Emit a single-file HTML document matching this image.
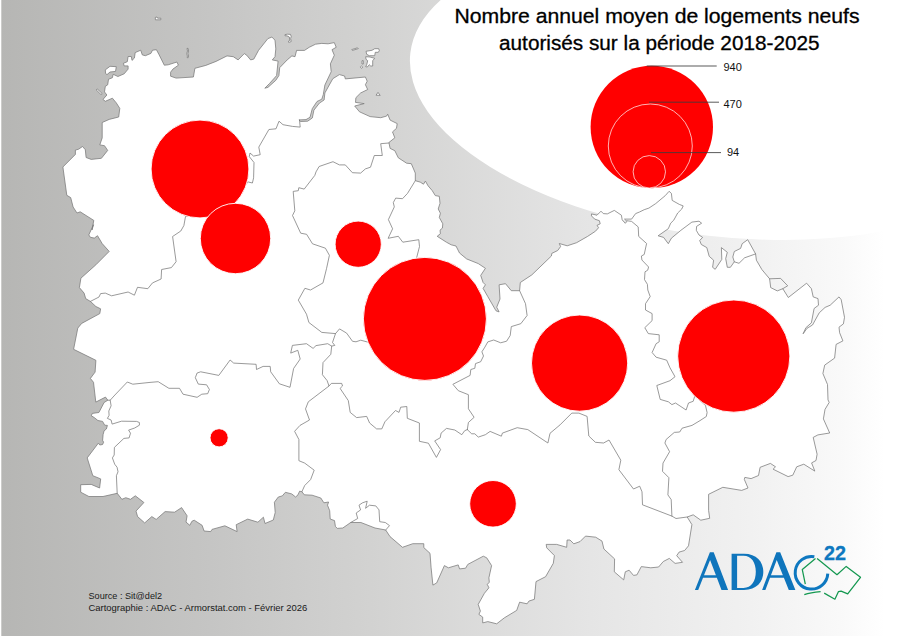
<!DOCTYPE html>
<html><head><meta charset="utf-8"><title>Carte</title>
<style>
html,body{margin:0;padding:0;background:#fff;}
body{width:900px;height:636px;overflow:hidden;position:relative;font-family:"Liberation Sans",sans-serif;}
svg{position:absolute;left:0;top:0;display:block;}
text{font-family:"Liberation Sans",sans-serif;}
</style></head><body>
<svg width="900" height="636" viewBox="0 0 900 636">
<defs>
<linearGradient id="bg" x1="0" y1="0" x2="900" y2="0" gradientUnits="userSpaceOnUse">
<stop offset="0" stop-color="#b6b6b4"/>
<stop offset="0.2333" stop-color="#c5c5c4"/>
<stop offset="0.4111" stop-color="#d2d2d1"/>
<stop offset="0.6556" stop-color="#e5e5e5"/>
<stop offset="0.8333" stop-color="#f1f1f1"/>
<stop offset="0.9333" stop-color="#f9f9f9"/>
<stop offset="0.9833" stop-color="#ffffff"/>
<stop offset="1" stop-color="#ffffff"/>
</linearGradient>
</defs>
<rect x="0" y="0" width="900" height="636" fill="url(#bg)"/>
<rect x="0" y="0" width="1.3" height="636" fill="#ffffff"/>
<ellipse cx="723.1" cy="89.7" rx="314.9" ry="146.7" transform="rotate(6.7 723.1 89.7)" fill="#ffffff"/>

<g fill="#ffffff" stroke="#787878" stroke-width="0.75" stroke-linejoin="round">
<polygon points="92,230 93.8,220.4 80.2,211.8 77,213 73.1,207 70.7,197.6 66.8,195.3 62.9,167 75.4,154.4 75.4,150.1 78.6,149.2 82.5,146.5 85.3,149.7 86.1,157.5 91.2,159.4 101.4,158.3 107.7,150.4 104.5,145.7 99.8,144.9 102.2,137.9 102.2,122.5 109.2,119.4 118.7,117 119.8,108.4 116.3,102.9 112.4,98.2 105.3,101.3 103,99.4 106.9,95 104.5,91.9 105.3,86.4 107.7,84.8 108.5,79.3 112.4,77.7 113.2,74.3 117.9,76.5 124.2,73.8 128.1,69.1 128.1,65.9 124.2,65.9 123.4,63.3 127.3,61.7 128.1,56.5 131.3,56.5 132,60.4 134.4,58.1 135.2,52.6 140.7,50.2 142.3,54.9 145.4,55.7 150.9,53.4 152.5,50.2 156.4,49.7 158.8,54.2 164.3,65.2 168.2,64.8 176.9,62 178.4,65.2 172.9,69.1 170.6,72.2 170.6,76.2 176.1,78.1 193.4,77 194.9,68.3 205.8,65.4 216,61.4 227,55.9 233.3,56.7 238.1,59.9 244.3,53.6 246.7,55.2 250.6,59.9 253.8,59.1 258.5,50.4 267.9,38.6 271.9,37.1 275,40.2 275.8,48.9 275,56.7 272.3,59.9 278.1,61.1 276.6,75.6 269.5,83.5 264.8,88.2 267.9,87.4 275.8,80.3 278.9,75.6 279.7,67.7 287.2,59.9 291.9,55.9 295,56.7 296.6,50.4 304.5,50.4 309.2,47.3 315.5,44.2 321.8,43.4 328.1,43.8 334.3,42.6 336.2,47.3 332,49.7 334.3,55.2 330.4,63.8 331.2,71.7 324.9,85 323.3,94.5 321.8,99.2 317,101.5 312.3,108.6 310,117.3 306,119.6 299,119.9 300.5,121.5 307.6,121.2 312.3,118 313.9,110.2 319.4,103.1 324.1,100 324.9,92.9 332.8,78.7 339.4,74.6 344.6,76 345.3,78.9 365.4,77 367.2,81.2 365.4,84.7 367.7,89.5 360.6,93 355.9,97.7 355.5,102.4 364.2,103.6 354.7,106 359.5,111.8 370.1,116.6 380.7,117.7 386.6,116.1 387.7,114.2 390.1,120.1 397.2,123.6 396.5,128.3 392.5,131.9 394.8,137.8 388.9,142.5 390.1,148.4 394.8,150.7 398.3,157.8 406.6,163.2 411.3,163.7 415.3,173.1 415.3,180.7 420.2,182.1 423.5,184.2 425.4,181.1 428,185.7 432.2,190.6 435.3,195.6 439.3,196.3 440,203.3 438.2,209 440.4,213.2 439.3,217.5 442.8,223.8 442.4,228.1 440,230.2 440.4,233.7 437.2,236.3 446.4,242.2 451.2,244.8 456,246 459.5,253 466.6,258.9 478.3,263.6 485.4,268.3 480.7,275.4 483.1,282.5 485.4,284.8 483.1,288.4 487.8,296.6 496,310.8 499.1,311.9 496.7,307.2 500,299 499.1,284.8 505.5,283.7 511.3,290.7 519.6,290.7 520.3,282.5 531.8,274.9 551.4,256 551.8,253.4 557.7,250.5 560.6,246.6 559.3,243.5 567.2,245.8 576.6,242.7 587.6,236.4 595.5,231.2 598.6,227.7 597,225.4 600.2,223.8 599.4,220.7 594.7,219.1 591.5,215.9 591.5,213.9 597,215.2 601,211.2 603.3,213.6 607.3,213.9 614.3,210.4 621.4,215.2 622.2,219.9 625.3,223.3 626.9,221.4 624.5,219.1 631.6,219.1 635.6,213.6 639.5,212 644.2,209.7 648.9,208.1 655.7,203.6 665.2,195.7 669.1,191.3 671.4,193.4 672.2,200.4 679.3,204.4 683.2,205.9 681.7,209.1 677.7,213 673.8,220.1 670.7,223.2 668.3,228.7 658.1,235.8 663.6,237.4 668.3,243.7 671.4,238.2 680.9,230.3 691.9,222.1 699,221.2 701.6,223.2 696.6,226.4 696.3,230.3 699,235 702.6,237.4 699.7,240.5 701.3,244.5 706.8,247.6 709.2,256.3 713.6,260.2 712.6,267.3 715.2,269.3 721.8,259.4 721.4,247.6 727.3,252.3 725.7,258.6 727.3,267.3 730.4,267.3 734.3,261.8 732.8,257 734.3,251.5 740.6,248.4 742.2,243.7 747.7,239.7 755.6,253.9 756.4,260.2 761.9,269.6 769.6,278.8 770.7,287.6 777.3,290.9 782.8,288.7 788.3,297.5 806.6,283.2 811.4,288.7 813.2,296.9 818,298.6 818.5,305.2 814.1,308.5 811.4,322.8 805.9,327.7 803.1,333.8 807,328.3 812.5,325 819.2,312.9 825.1,307.4 830.2,305.2 839,296.9 841.2,299.7 844.5,317.3 843.4,323.9 839,327.2 839.6,332.7 842.9,340.9 836.1,344.4 834.6,358.1 824.7,365.1 822.9,373.5 827.5,384.5 828,399.9 829.2,402.4 825,409.4 823.4,418.9 829.7,433 817.9,434.9 813.2,437.4 817.1,454.2 816,460.5 811.6,462.9 814.8,471.1 803.8,464.2 796.7,466.8 792.8,475.2 788.1,476.6 773.1,469.2 775.5,466.8 770.4,463.4 760.1,467.3 758.5,475.5 751.1,478.6 744.8,477.4 744.3,479.4 748,488 741.7,490.4 722.8,487.3 708.6,494.3 708.6,510.4 709.7,518.3 700.8,520.2 693.2,514.8 687.2,517 691.9,524.6 688.5,545.8 684.6,550.5 679.1,552.1 676.7,555.7 682.5,562.3 675.1,563.4 669.3,558.4 663.3,561.5 658.6,567 650.8,567.8 641.3,566.6 636.9,574.9 633.5,575.4 629.1,570.2 625.3,571.8 623.7,579.9 614.3,571.8 614.6,558.9 603.9,549 602,541.1 595.7,537.2 585.5,536.1 580,541.6 573.8,543.8 570,540 567.1,540 566.7,547.3 556.7,544.4 546.2,544.4 546.7,547.8 554.4,555.6 553.3,563.3 545.6,576.7 536,581.6 534.4,599.3 528.9,601.1 527.1,603.8 519.6,602.2 516.7,610.4 504.4,617.8 496.7,623.8 487.8,621.6 482.7,622.9 482.7,617.1 478.9,614.4 480.4,611.1 478.2,604.4 484.4,593.3 488.9,587.8 487.3,584.4 489.3,582.2 488.9,577.8 491.6,565.6 486.7,557.8 483.3,556.2 467.8,564.4 465.6,568.2 459.6,568.9 458.2,564.9 448.4,567.8 444.4,565.6 436.7,582.9 432.9,585.1 431.1,567.8 430,553.3 423.8,547.6 423.8,543.7 412.8,543.7 402.5,547.3 390,536.6 385.7,530 375,528 360.9,522.5 350.7,522.5 342.8,528 337.3,528.4 335.4,526.4 334.5,520.6 330.2,519 329.7,510.7 327.5,505.2 328.6,502 323.9,502.8 320.8,498 312.1,495.2 304.3,494.8 301.9,491.7 299.6,491.2 298,494.8 295.6,497 291.7,493.9 285.4,492.3 282.3,495.9 278.3,497 274.4,502.2 275.2,512.5 273.3,520 265,523.5 263.4,517.2 257.9,522.2 247.7,519.1 236.2,524.7 237.1,531.6 224.9,525.8 212,529.4 210.7,531.6 204.1,531 202.1,525.3 194.2,520.2 191.9,521.3 189.8,525.3 186,522.1 187.1,515.8 181.6,507.6 174.6,512.2 165.1,511.6 156.2,519.4 151.8,516.6 144.7,522.9 137.6,516.6 136,511.1 143.9,502.5 135.3,495.8 130.5,499.3 125.8,497.7 121.9,499.3 117.2,493.3 103,496.5 88.9,496.5 80.7,492.2 80.7,484.7 91.2,484.4 99.6,488 100.7,478.9 92.8,475.7 87.2,457.9 98.4,443.1 99.8,445 102.6,444.5 103.6,442.2 102.6,440.3 103.1,434.6 104.1,430.8 106.4,429 107.4,425.4 104.7,425.2 102.6,421.4 97.9,420.5 94.2,417.5 91.3,415.8 92.3,413.4 98.9,412.5 104.1,402.5 107.8,400.2 105.5,397.1 95.8,402.1 93.5,382.3 90.4,378.4 95.1,372.1 95.9,360.3 73.6,349.3 77.8,328.1 81.7,323.4 99.8,313.6 100.6,308.8 95.9,306.5 90.4,301.4 85.7,298.6 84.1,293.1 79.4,287.6 80.9,278.2 95.9,264.8 109.2,251.4 102.2,243.6 97.5,235.7 94.3,238.1 90.4,237.3 88.8,234.9 93.5,224.7"/>
<polygon points="366,51.3 372,50.3 374.7,48.7 378.7,48.7 379.3,50.7 378.3,52.3 375.3,52.3 374.7,55.7 369.3,55.7 366.7,54.3"/>
<polygon points="365.7,56.7 370,57 374.7,58.3 372.7,60.7 372.7,66 370.7,66 369.3,64.7 367.3,67 365.7,66.7 366.7,64.7 367.7,60.7 366,59.3"/>
<polygon points="360.3,66.9 361.5,66 362.8,67.2 361.5,68.4"/>
<polygon points="351.7,49.6 357.5,47.8 358.3,48.6 352.5,50.4"/>
<polygon points="362,60.7 363.3,60.7 363.3,64 362,64"/>
<polygon points="376,95.2 378,92.4 380.2,95.4"/>
<polygon points="96.2,89.8 97.5,89.2 102.2,93.6 101,94.5"/>
<polygon points="105.3,69.9 110,66.3 116.3,66.7 115.5,71.4 110,72 107,74.6 105.6,73.5"/>
<polygon points="155.3,17.4 157,17 157.6,18.2 160.8,18.2 160.8,19.8 155.4,19.8"/>
<polygon points="285,34.6 287.5,34.2 290.5,34.4 291.2,36.5 290.6,38.5 291.2,41.5 289,42.4 288,41.7 289.8,40.4 289.3,37 287,35.8 285,35.8"/>
<polygon points="187,48.4 188.1,48.4 188.6,51 187.8,53.5 188.6,56 188.2,57.7 187.2,57.7 187.4,56 186.8,53.5 187.5,51"/>
</g>
<g fill="none" stroke="#787878" stroke-width="0.75" stroke-linejoin="round" stroke-linecap="round">
<polyline points="299.5,120 300.2,127.1 292.5,126.4 283,124.7 279,121.2 276,128.8 268.9,129.5 258.8,147.1 260.2,154.7 253.6,156.1 250,153 249.3,156.6 254,162.5 253.6,177.8 252.4,183 248.4,182 220,205 185.5,216.5 183.9,225.5 180.8,231 172.6,236.5 176.1,261.7 171.4,267.6 161.6,269.5 161.1,279 152.5,282.9 147.8,288.7 137.5,287.3 134.4,295.2 128.1,292 111.6,295.8 105.3,293.1 100.6,293.6 99,297 90.4,301.4"/>
<polyline points="388.9,143 380.7,143.7 382.3,155.5 374.3,155.5 370.5,167.2 365.4,168.9 360.6,173.1 352.4,172.7 345.3,164.9 339.4,164.9 333,161.7 319.1,166.5 316,171.9 314.8,175.4 304.2,189.1 298.8,187.7 298.3,190.7 293.2,191.4 294.8,210.8 292.5,215.5 300.7,233.2 306.6,234.3 312.5,243.8 325.4,248.2 329.4,255.3 326.6,268.3 323,282.9 310.5,290 304.9,288.3 298.3,300.1 306.5,314.2 308.9,322.5 321.8,332.4 335.5,333.6 339.5,328.9 346.6,333.1 352.5,341.3 356,341.8 360.7,340.2 367.8,342.1 395,345"/>
<polyline points="415.3,180.7 407.5,193.4 402.5,198.7 395.7,198.1 393.3,202.6 394.3,206.9 388.4,219.6 392.6,228.8 388.1,238.3 398.3,236.3 402.8,242.2 418.8,239.7 419.5,246.5 416.7,257.5 410,300 395,345"/>
<polyline points="519.6,290.7 525.5,303.7 527.1,315.5 520.8,323.7 511.3,326.6 510.2,335.5 506.6,341.2 500.7,342.8 493.7,340 487.8,341.9 484.9,347.1 481.9,351.8 483.5,356 480.7,361.7 475.5,363.6 474.8,368.3 470.8,369.5 470.1,375.4 452.9,384.3 458.3,390.7 468.4,394.7 468.4,408.8 474.1,417.3 468.4,422.5 467.3,429.6"/>
<polyline points="467.3,429.6 464.7,430.7 461.8,434.7 454.8,430 446.5,428.4 441.1,433.1 440.2,437.8 434.7,440.9 440.6,449.6 436.4,457.4 428.4,443.2 419.4,441.3 419.4,423 407.3,418.3 406.8,406.5 400.7,407.2 399,412.4 395.5,410.5 384.9,421.8 381.8,428.9 376.6,428.9 369.6,423 366.7,416.4 356.6,417.6 350.2,412.4 348.3,400.6 340.1,388.4 342.5,386 341.7,383.4 331.4,383.4 329,386"/>
<polyline points="467.3,429.6 471.7,433.8 474.8,433.8 478.3,437.1 485.4,434.7 490.1,431.4 501.4,436.2 502.4,433.1 517.2,427.7 527.8,429.6 547.9,443 550,433.3 560,424.9 571.8,413.1 578.9,413.1 587.1,416.4 588.8,436 595.4,442.3 603.6,443 609,440 620.8,460.2 618.9,469.7 633.5,489 639.7,486.2 642,491.8 642.5,504.8 671.9,516.1 676,518.5 687.2,517"/>
<polyline points="335.5,333.6 332.5,342.5 334.8,345.4 331.7,346.1 330.8,354.3 323,362.6 322.4,374.7 327.1,380.6 329,386 308.3,401.8 305.5,408.9 309.5,420 300,425.4 294.6,431.3 298.9,439.5 298.9,460.7 304.7,463.1 314.2,470.2 310.6,479.6 304.7,485.5 301.9,491.7"/>
<polyline points="331.7,346.1 327.7,343.7 316,345.6 313.1,348.4 306.5,343.7 292.4,345.4 290.7,353.1 297.8,350.3 300.2,359 293.6,368.5 290,387.3 279.4,383.8 270.7,371.8 270.2,366.4 263.1,366.4 256.5,369.5 256.1,364.3 233.7,363.1 230.1,360 218.8,375.4 200.7,371.8 197.1,373 195.3,377.7 198.3,384.1 206.6,384.8 209.4,389.5 207.7,393.7 201.8,394.2 197.1,397.3 183,394.2 179.5,388.3 168.9,388.3 158.2,381.7 150,382.4 132.8,384.2 127.3,382 114.9,395 110.2,400.2 107.8,400.2"/>
<polyline points="110.2,400.2 111.1,405.8 108.8,411 109.1,415.3 107.4,418.4 111.1,420 112.1,424.1 121.5,421.2 136.6,421.4 139.4,422.5 139.4,425.2 134.7,428 128.6,430.1 130.5,433.2 129.1,437.9 123.9,438.4 114.4,447.4 114.2,455 112.4,457.9 114.7,464.2 117.1,467.3 118,471.8 116.4,475.7 117.2,493.3"/>
<polyline points="626.9,220.7 631.6,221.4 638.2,226.9 638.7,236.4 646.6,243.5 644.2,254.5 641.4,256 641.9,260 648.6,267 647.7,270.2 645,271.8 644.5,279.6 647.4,284.3 647.8,290 650.2,296.6 645.5,303.7 645.5,310 652.1,313.6 652.1,320.6 644.8,327.7 648.3,333.6 659.2,334.8 659.2,341.8 656.1,343.7 652.1,352.5 656.1,357.2 666.7,360.2 670,367.8 675,376.7 670,380.7 656.8,385.5 660.2,399.4 668.4,401.8 671.9,404.6 675.5,403 686.1,410 688.5,403 693.2,401.3 694.8,395.9 705.5,405.5 707.1,412.6 706.3,416.5 700,420.6 692,425.4 682.1,428.2 679.7,432 674.3,432.4 666.1,439.5 664.9,443 669.6,451.7 663,463.1 662.5,471.3 668.9,477.7 667.9,494.9 671.2,499.6 671.9,516.1"/>
<polyline points="769.6,278.8 780.6,278.4 787.7,285.8 782.8,288.7"/>
<polyline points="734.3,261.8 739,263.3 744.6,257.8 755.6,253.9"/>
<polyline points="385.7,530 389.5,525.6 385.3,522.5 379.7,521.7 379,509.9 375.8,505.9 369.5,505.2 365.6,508.3 367.2,501.2 362.5,502.8 359,505.2 360.6,509.9 356.2,513 357.7,518.5 350.7,522.5"/>
</g>
<g fill="#ff0000" stroke="#ffffff" stroke-width="0.9">
<circle cx="200" cy="169" r="48.9"/>
<circle cx="235.5" cy="238.5" r="35.2"/>
<circle cx="358.2" cy="244.2" r="23.1"/>
<circle cx="424.9" cy="318.9" r="61.5"/>
<circle cx="579.6" cy="363.1" r="48.1"/>
<circle cx="733.8" cy="356.1" r="56.1"/>
<circle cx="219.1" cy="437.8" r="9.1"/>
<circle cx="493.0" cy="503.8" r="23.3"/>
</g>
<g>
<circle cx="651.8" cy="127" r="61.2" fill="#ff0000"/>
<circle cx="650.3" cy="146" r="42" fill="#ff0000" stroke="#ffffff" stroke-width="0.7"/>
<circle cx="649.3" cy="171.8" r="16.2" fill="#ff0000" stroke="#ffffff" stroke-width="0.7"/>
<g stroke="#3c3c3c" stroke-width="0.85">
<line x1="646.7" y1="66" x2="716.7" y2="66"/>
<line x1="649" y1="102.2" x2="719" y2="102.2"/>
<line x1="651" y1="152.6" x2="721" y2="152.6"/>
</g>
<g font-size="11" fill="#111">
<text x="723.5" y="70.8">940</text>
<text x="723.5" y="107.8">470</text>
<text x="727" y="155.7">94</text>
</g>
</g>
<g font-size="19.7" fill="#000" stroke="#000" stroke-width="0.3" text-anchor="middle">
<text x="657" y="22.8" textLength="405" lengthAdjust="spacingAndGlyphs">Nombre annuel moyen de logements neufs</text>
<text x="659.3" y="49.7" textLength="320.5" lengthAdjust="spacingAndGlyphs">autorisés sur la période 2018-2025</text>
</g>
<g font-size="9.6" fill="#1a1a1a">
<text x="88.5" y="598.7" textLength="73.6" lengthAdjust="spacingAndGlyphs">Source : Sit@del2</text>
<text x="88.5" y="610.8" textLength="218.8" lengthAdjust="spacingAndGlyphs">Cartographie : ADAC - Armorstat.com - Février 2026</text>
</g>
<g id="logo">
<path d="M694.90,589.90 L709.90,552.20 L713.70,552.20 L728.10,589.90 L721.50,589.90 L716.84,577.70 L703.05,577.70 L698.20,589.90 Z M704.01,575.30 L715.92,575.30 L710.09,560.02 Z" fill="#0f75bc" fill-rule="evenodd"/>
<path d="M731.6,553.7 L744,553.7 C756.5,553.7 763.3,561.5 763.3,571.8 C763.3,582.1 756.5,589.9 744,589.9 L731.6,589.9 Z M737.1,555.7 L743.5,555.7 C751.5,555.7 755.8,562.5 755.8,571.8 C755.8,581.1 751.5,587.9 743.5,587.9 L737.1,587.9 Z" fill="#0f75bc" fill-rule="evenodd"/>
<path d="M762.10,589.90 L776.40,552.20 L780.20,552.20 L795.40,589.90 L788.80,589.90 L783.88,577.70 L770.03,577.70 L765.40,589.90 Z M770.94,575.30 L782.91,575.30 L776.74,560.00 Z" fill="#0f75bc" fill-rule="evenodd"/>
<path d="M814.33 556.75 A16.3 16.3 0 1 0 827.78 573.65" fill="none" stroke="#0e78c0" stroke-width="3"/>
<text x="824.1" y="560.4" font-size="19.6" font-weight="bold" fill="#0e78c0" stroke="#0e78c0" stroke-width="0.3" textLength="22" lengthAdjust="spacingAndGlyphs">22</text>
<g fill="none" stroke="#149850" stroke-width="1.25" stroke-linejoin="round">
<polyline points="815.5,558.4 802.3,569.6 805.3,584.1"/>
<path d="M804.3,594.6 Q810.4,592.4 820.6,591.6"/>
<polyline points="824.2,593.1 834.9,599.2 838.5,591.6 841.1,591.1 847.7,593.9 860.5,577.3 846.2,566.4 837,574.7 817.1,558.4"/>
</g>
</g>
</svg></body></html>
